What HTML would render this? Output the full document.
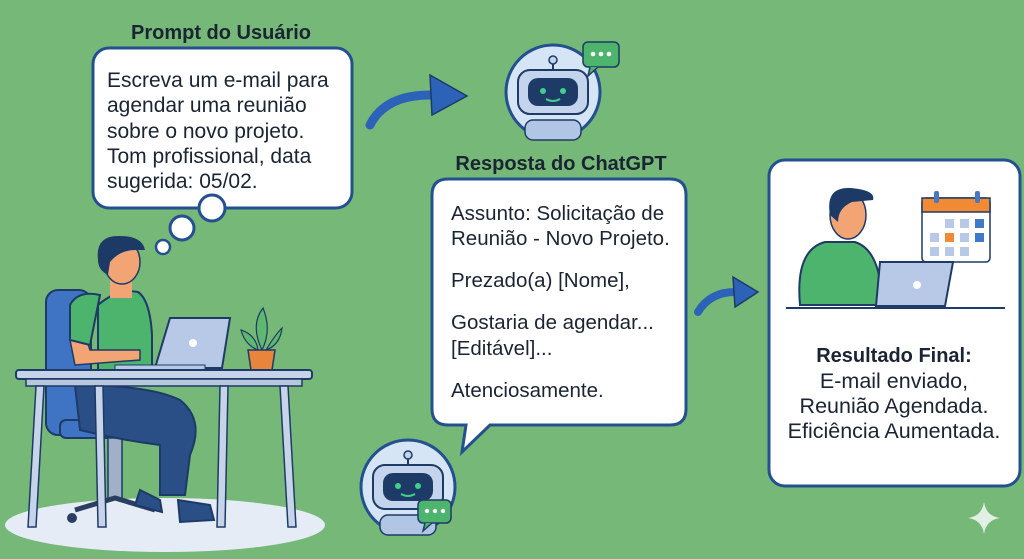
<!DOCTYPE html>
<html><head><meta charset="utf-8"><style>
html,body{margin:0;padding:0;background:#76b877;}
svg{display:block}
text{font-family:"Liberation Sans",sans-serif;fill:#1b2433}
</style></head><body>
<svg width="1024" height="559" viewBox="0 0 1024 559" xmlns="http://www.w3.org/2000/svg">
<rect width="1024" height="559" fill="#76b877"/>
<ellipse cx="165" cy="525" rx="160" ry="27" fill="#e6ecf5"/>
<rect x="46" y="290" width="45" height="145" rx="12" fill="#3f74c4" stroke="#1e3a66" stroke-width="2"/>
<rect x="60" y="420" width="80" height="18" rx="6" fill="#3f74c4" stroke="#1e3a66" stroke-width="2"/>
<rect x="108" y="438" width="14" height="60" fill="#9fb0c8" stroke="#1e3a66" stroke-width="1.5"/>
<path d="M75 510 L115 498 L155 510" stroke="#2a3f5f" stroke-width="5" fill="none"/>
<circle cx="72" cy="518" r="5" fill="#2a3f5f"/>
<path d="M98 305 Q118 288 138 292 Q150 300 152 335 L152 380 L98 385 Z" fill="#4cb46c" stroke="#1e3a66" stroke-width="2"/>
<path d="M75 385 Q150 385 180 400 Q205 420 190 455 L185 495 L160 495 L160 445 Q120 440 80 430 Z" fill="#294f86" stroke="#1e3a66" stroke-width="2"/>
<path d="M140 490 L160 500 L162 512 L135 505 Z" fill="#294f86" stroke="#1e3a66" stroke-width="2"/>
<path d="M178 500 L210 505 L214 520 L180 522 Z" fill="#294f86" stroke="#1e3a66" stroke-width="2"/>
<path d="M70 340 L75 365 L140 360 L140 350 L90 350 L85 335 Z" fill="#f2a475" stroke="#1e3a66" stroke-width="1.5"/>
<path d="M70 305 Q78 290 100 295 L90 345 L70 340 Z" fill="#4cb46c" stroke="#1e3a66" stroke-width="2"/>
<rect x="110" y="270" width="22" height="28" fill="#f2a475"/>
<ellipse cx="122" cy="262" rx="18" ry="22" fill="#f2a475" stroke="#1e3a66" stroke-width="1.5"/>
<path d="M98 260 Q95 235 120 236 Q142 236 145 250 L135 250 Q120 250 110 262 L108 275 Q98 270 98 260 Z" fill="#1d3a66"/>
<path d="M170 318 L230 318 L222 368 L155 368 Z" fill="#b7c9e6" stroke="#1e3a66" stroke-width="2"/>
<circle cx="193" cy="343" r="4" fill="#fff"/>
<rect x="115" y="365" width="90" height="5" fill="#b7c9e6" stroke="#1e3a66" stroke-width="1"/>
<path d="M248 350 L275 350 L272 370 L251 370 Z" fill="#e8843c" stroke="#1e3a66" stroke-width="1.5"/>
<path d="M262 350 Q250 325 263 308 Q272 330 262 350 M258 350 Q245 345 241 330 Q256 335 258 350 M266 350 Q275 335 282 328 Q280 345 266 350" fill="#5fb86f" stroke="#1e3a66" stroke-width="1.2"/>
<rect x="16" y="370" width="296" height="9" rx="3" fill="#c6d3e8" stroke="#1e3a66" stroke-width="2"/>
<rect x="26" y="379" width="276" height="7" fill="#b7c7e0" stroke="#1e3a66" stroke-width="1.5"/>
<path d="M36 386 L44 386 L36 527 L28 527 Z M95 386 L103 386 L106 527 L98 527 Z M220 386 L228 386 L225 527 L217 527 Z M280 386 L288 386 L296 527 L288 527 Z" fill="#c6d3e8" stroke="#1e3a66" stroke-width="1.5"/>
<text x="221" y="39" font-size="20" font-weight="bold" text-anchor="middle">Prompt do Usuário</text>
<rect x="93" y="48" width="259" height="160" rx="16" fill="#fff" stroke="#24508f" stroke-width="3"/>
<g font-size="21"><text x="107" y="87">Escreva um e-mail para</text><text x="107" y="112">agendar uma reunião</text><text x="107" y="138">sobre o novo projeto.</text><text x="107" y="163">Tom profissional, data</text><text x="107" y="188">sugerida: 05/02.</text></g>
<circle cx="212" cy="208" r="13" fill="#fff" stroke="#24508f" stroke-width="3"/>
<circle cx="182" cy="228" r="12" fill="#fff" stroke="#24508f" stroke-width="3"/>
<circle cx="163" cy="247" r="7" fill="#fff" stroke="#24508f" stroke-width="2.5"/>
<path d="M370 125 Q385 95 430 95" stroke="#2c63b8" stroke-width="9" fill="none" stroke-linecap="round"/>
<path d="M430 75 L467 96 L432 115 Z" fill="#2c63b8" stroke="#1e3a66" stroke-width="1.5"/>
<g id="robot">
<circle cx="553" cy="92" r="47" fill="#d6e5f5" stroke="#24508f" stroke-width="3"/>
<rect x="525" y="120" width="56" height="20" rx="8" fill="#b0c6e4" stroke="#1e3a66" stroke-width="1.5"/>
<rect x="518" y="70" width="70" height="44" rx="12" fill="#c3d4ec" stroke="#1e3a66" stroke-width="2"/>
<rect x="528" y="78" width="50" height="28" rx="10" fill="#1e3a66"/>
<circle cx="543" cy="91" r="3" fill="#3fd08a"/><circle cx="563" cy="91" r="3" fill="#3fd08a"/>
<path d="M546 99 Q553 103 560 99" stroke="#3fd08a" stroke-width="2" fill="none"/>
<line x1="553" y1="70" x2="553" y2="62" stroke="#1e3a66" stroke-width="2"/><circle cx="553" cy="60" r="4" fill="#c3d4ec" stroke="#1e3a66" stroke-width="1.5"/>
</g>
<rect x="583" y="42" width="36" height="25" rx="5" fill="#4cb46c" stroke="#1e3a66" stroke-width="1.5"/>
<path d="M590 67 L588 76 L598 67" fill="#4cb46c" stroke="#1e3a66" stroke-width="1.5"/>
<circle cx="593" cy="54" r="2.3" fill="#fff"/><circle cx="601" cy="54" r="2.3" fill="#fff"/><circle cx="609" cy="54" r="2.3" fill="#fff"/>
<text x="561" y="170" font-size="20" font-weight="bold" text-anchor="middle">Resposta do ChatGPT</text>
<path d="M448 179 L670 179 Q686 179 686 195 L686 409 Q686 425 670 425 L490 425 L462 452 L466 425 L448 425 Q432 425 432 409 L432 195 Q432 179 448 179 Z" fill="#fff" stroke="#24508f" stroke-width="3"/>
<g font-size="20.5"><text x="451" y="220">Assunto: Solicitação de</text><text x="451" y="245">Reunião - Novo Projeto.</text><text x="451" y="287">Prezado(a) [Nome],</text><text x="451" y="329">Gostaria de agendar...</text><text x="451" y="355">[Editável]...</text><text x="451" y="397">Atenciosamente.</text></g>
<use href="#robot" transform="translate(-145 395)"/>
<rect x="418" y="500" width="33" height="23" rx="5" fill="#4cb46c" stroke="#1e3a66" stroke-width="1.5"/>
<path d="M425 523 L423 531 L432 523" fill="#4cb46c" stroke="#1e3a66" stroke-width="1.5"/>
<circle cx="427" cy="511" r="2.2" fill="#fff"/><circle cx="435" cy="511" r="2.2" fill="#fff"/><circle cx="443" cy="511" r="2.2" fill="#fff"/>
<path d="M698 312 Q710 292 735 292" stroke="#2c63b8" stroke-width="8" fill="none" stroke-linecap="round"/>
<path d="M733 277 L758 292 L735 307 Z" fill="#2c63b8" stroke="#1e3a66" stroke-width="1.5"/>
<rect x="769" y="160" width="251" height="326" rx="16" fill="#fff" stroke="#24508f" stroke-width="3"/>
<rect x="922" y="198" width="68" height="64" rx="4" fill="#fff" stroke="#1e3a66" stroke-width="1.5"/>
<rect x="922" y="198" width="68" height="14" fill="#f08a34" stroke="#1e3a66" stroke-width="1.5"/>
<rect x="934" y="191" width="5" height="12" rx="2" fill="#4a78c0"/><rect x="975" y="191" width="5" height="12" rx="2" fill="#4a78c0"/>
<g fill="#b7c9e6"><rect x="945" y="219" width="9" height="9"/><rect x="960" y="219" width="9" height="9"/><rect x="930" y="233" width="9" height="9"/><rect x="960" y="233" width="9" height="9"/><rect x="930" y="247" width="9" height="9"/><rect x="945" y="247" width="9" height="9"/><rect x="960" y="247" width="9" height="9"/></g>
<rect x="975" y="219" width="9" height="9" fill="#3f7ac8"/><rect x="975" y="233" width="9" height="9" fill="#3f7ac8"/><rect x="945" y="233" width="9" height="9" fill="#f08a34"/>
<path d="M800 305 Q795 250 825 242 L855 242 Q880 250 882 300 L882 305 Z" fill="#4cb46c" stroke="#1e3a66" stroke-width="2"/>
<ellipse cx="848" cy="215" rx="18" ry="24" fill="#f2a475" stroke="#1e3a66" stroke-width="1.5"/>
<path d="M830 215 Q825 187 850 188 Q876 190 873 200 L852 202 Q838 208 838 222 Z" fill="#1d3a66"/>
<path d="M880 262 L953 262 L945 306 L876 306 Z" fill="#b7c9e6" stroke="#1e3a66" stroke-width="2"/>
<circle cx="917" cy="285" r="4" fill="#fff"/>
<line x1="786" y1="308" x2="1005" y2="308" stroke="#1e3a66" stroke-width="2"/>
<text x="894" y="362" font-size="20" font-weight="bold" text-anchor="middle">Resultado Final:</text>
<g font-size="21.5" text-anchor="middle"><text x="894" y="388">E-mail enviado,</text><text x="894" y="413">Reunião Agendada.</text><text x="894" y="438">Eficiência Aumentada.</text></g>
<path d="M984 502 Q986 516 1000 518 Q986 520 984 534 Q982 520 968 518 Q982 516 984 502 Z" fill="#eef5ef" opacity="0.9"/>
</svg>
</body></html>
